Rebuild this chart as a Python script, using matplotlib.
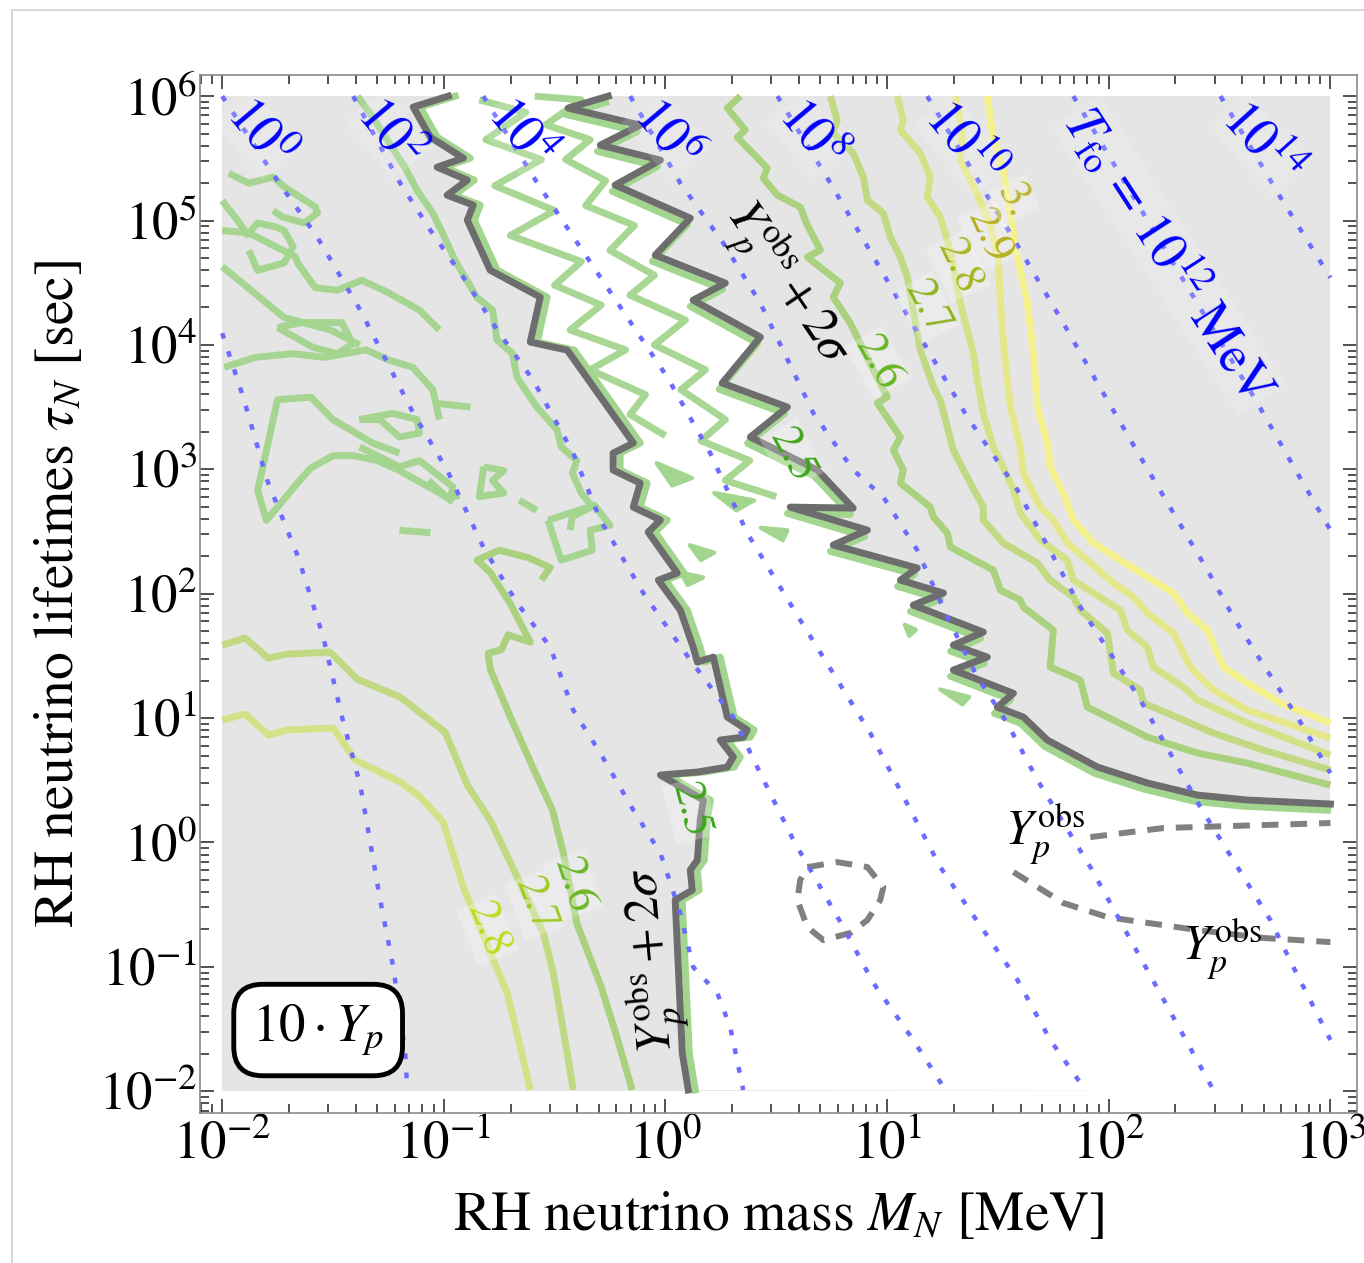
import numpy as np
import matplotlib
matplotlib.use("Agg")
import matplotlib.pyplot as plt
from matplotlib import patheffects as pe
from matplotlib.lines import Line2D
from matplotlib.ticker import FixedLocator, FixedFormatter, LogLocator, NullFormatter

plt.rcParams['font.family'] = ['STIXGeneral', 'DejaVu Serif']
plt.rcParams['mathtext.fontset'] = 'stix'

# ---------------- data: log10(M_N / MeV), log10(tau_N / sec) ----------------
scan_logM = [-2.0, 3.0]
scan_logtau = [-2.0, 6.0]
xlim_log = [-2.10, 3.12]
ylim_log = [-2.175, 6.17]

xtick_exps = [-2, -1, 0, 1, 2, 3]
xtick_labels = [r'$10^{-2}$', r'$10^{-1}$', r'$10^{0}$', r'$10^{1}$', r'$10^{2}$', r'$10^{3}$']
ytick_exps = [-2, -1, 0, 1, 2, 3, 4, 5, 6]
ytick_labels = [r'$10^{-2}$', r'$10^{-1}$', r'$10^{0}$', r'$10^{1}$', r'$10^{2}$',
                r'$10^{3}$', r'$10^{4}$', r'$10^{5}$', r'$10^{6}$']

# Y_p^obs + 2 sigma boundaries
sig_left_logM = [-0.980, -1.138, -1.061, -0.912, -1.030, -0.894, -0.985, -0.867, -0.894, -0.791,
                 -0.565, -0.610, -0.443, -0.145, -0.236, -0.236, -0.114, -0.145, -0.023, -0.078,
                 0.053, -0.032, 0.067, 0.125, 0.144, 0.216, 0.279, 0.369, 0.351, 0.247,
                 0.306, 0.279, 0.144, -0.023, 0.171, 0.157, 0.144, 0.112, 0.121, 0.044, 0.076, 0.103]
sig_left_logtau = [6.0, 5.912, 5.670, 5.502, 5.429, 5.325, 5.204, 5.124, 5.003, 4.601,
                   4.384, 4.023, 3.958, 3.211, 3.130, 2.994, 2.889, 2.696, 2.592, 2.495,
                   2.166, 2.109, 1.868, 1.571, 1.450, 1.490, 1.008, 0.904, 0.847, 0.823,
                   0.687, 0.606, 0.566, 0.542, 0.341, 0.180, -0.141, -0.222, -0.383, -0.463, -1.693, -1.990]
sig_right_logM = [-0.258, -0.439, -0.114, -0.294, -0.023, -0.227, 0.112, -0.046, 0.270, 0.125,
                  0.428, 0.256, 0.550, 0.383, 0.685, 0.847, 0.563, 0.911, 0.757, 1.136,
                  1.060, 1.254, 1.118, 1.434, 1.299, 1.452, 1.299, 1.570, 1.497, 1.615,
                  1.723, 1.949, 2.174, 2.400, 2.625, 3.000]
sig_right_logtau = [6.0, 5.904, 5.767, 5.606, 5.486, 5.285, 5.019, 4.722, 4.497, 4.360,
                    4.063, 3.693, 3.500, 3.259, 2.994, 2.688, 2.696, 2.511, 2.391, 2.206,
                    2.109, 2.005, 1.908, 1.691, 1.587, 1.490, 1.386, 1.199, 1.088, 1.008,
                    0.823, 0.606, 0.478, 0.381, 0.341, 0.309]

# 10*Y_p contours (upper right)
c26_logM = [0.338, 0.279, 0.360, 0.324, 0.459, 0.441, 0.505, 0.608, 0.640, 0.699, 0.640, 0.789, 0.757,
            0.834, 0.915, 1.001, 0.956, 1.060, 1.028, 1.073, 1.060, 1.195, 1.209, 1.272, 1.285, 1.479,
            1.511, 1.601, 1.615, 1.750, 1.736, 1.872, 1.903, 2.021, 2.174, 2.400, 2.625, 3.0]
c26_logtau = [6.0, 5.904, 5.727, 5.670, 5.421, 5.341, 5.204, 5.108, 4.963, 4.762, 4.706, 4.497, 4.384,
              4.175, 3.878, 3.580, 3.532, 3.259, 3.154, 2.994, 2.889, 2.696, 2.616, 2.487, 2.375, 2.190,
              2.029, 1.949, 1.892, 1.707, 1.410, 1.305, 1.088, 0.984, 0.847, 0.719, 0.638, 0.461]
c27_logM = [0.744, 0.775, 0.757, 0.847, 0.893, 0.911, 0.983, 1.014, 1.060, 1.091, 1.150, 1.209, 1.240,
            1.299, 1.344, 1.434, 1.434, 1.524, 1.678, 1.736, 1.840, 1.872, 1.994, 2.021, 2.143, 2.156,
            2.264, 2.472, 2.698, 3.0]
c27_logtau = [6.0, 5.807, 5.703, 5.542, 5.349, 5.164, 5.059, 4.867, 4.706, 4.545, 3.958, 3.661, 3.556,
              3.154, 2.994, 2.696, 2.592, 2.407, 2.246, 2.109, 1.973, 1.868, 1.683, 1.362, 1.225, 1.121,
              1.040, 0.879, 0.743, 0.582]
c28_logM = [1.046, 1.073, 1.060, 1.150, 1.195, 1.181, 1.240, 1.285, 1.330, 1.362, 1.389, 1.407, 1.434,
            1.479, 1.524, 1.570, 1.601, 1.691, 1.813, 1.840, 2.052, 2.084, 2.174, 2.201, 2.337, 2.400,
            2.625, 3.0]
c28_logtau = [6.0, 5.807, 5.727, 5.542, 5.349, 5.188, 5.027, 4.762, 4.336, 4.119, 3.934, 3.717, 3.452,
              3.178, 3.018, 2.833, 2.648, 2.431, 2.270, 2.109, 1.868, 1.707, 1.571, 1.410, 1.249, 1.145,
              0.960, 0.702]
c29_logM = [1.308, 1.339, 1.330, 1.398, 1.466, 1.502, 1.511, 1.524, 1.542, 1.556, 1.601, 1.615, 1.691,
            1.750, 1.813, 1.903, 2.021, 2.111, 2.174, 2.292, 2.368, 2.472, 2.625, 3.0]
c29_logtau = [6.0, 5.727, 5.486, 5.244, 4.963, 4.682, 4.360, 4.039, 3.717, 3.500, 3.178, 2.969, 2.696,
              2.592, 2.407, 2.270, 2.085, 1.973, 1.844, 1.683, 1.410, 1.225, 1.064, 0.839]
c30_logM = [1.452, 1.479, 1.524, 1.588, 1.633, 1.660, 1.678, 1.723, 1.736, 1.795, 1.840, 1.931, 2.052,
            2.174, 2.292, 2.355, 2.445, 2.517, 2.625, 2.774, 3.0]
c30_logtau = [6.0, 5.670, 5.405, 4.706, 4.336, 3.934, 3.500, 3.211, 3.018, 2.809, 2.592, 2.407, 2.270,
              2.133, 2.005, 1.844, 1.707, 1.410, 1.281, 1.121, 0.960]

# 10*Y_p contours (lower left)
c26b_logM = [-0.15, -0.22, -0.29, -0.40, -0.46, -0.51, -0.60, -0.70, -0.79, -0.80, -0.74, -0.71, -0.61,
             -0.70, -0.79, -0.85, -0.75, -0.62, -0.52, -0.56]
c26b_logtau = [-1.99, -1.56, -1.16, -0.65, -0.09, 0.26, 0.61, 1.01, 1.39, 1.52, 1.55, 1.67, 1.61,
               1.92, 2.17, 2.27, 2.35, 2.29, 2.21, 2.11]
c27b_logM = [-2.0, -1.896, -1.792, -1.707, -1.513, -1.391, -1.197, -0.994, -0.894, -0.791, -0.669,
             -0.551, -0.506, -0.443, -0.416]
c27b_logtau = [1.587, 1.643, 1.482, 1.514, 1.531, 1.313, 1.169, 0.887, 0.461, 0.180, -0.278,
               -0.728, -1.050, -1.693, -1.990]
c28b_logM = [-2.0, -1.896, -1.792, -1.707, -1.499, -1.400, -1.197, -1.106, -1.003, -0.912, -0.777,
             -0.714, -0.655, -0.610]
c28b_logtau = [0.984, 1.032, 0.863, 0.904, 0.920, 0.662, 0.486, 0.365, 0.164, -0.359, -0.945,
               -1.211, -1.645, -1.990]

# noisy 2.5-level fragments (left region)
n1_logM = [-1.39, -1.32, -1.17, -1.12, -1.05, -0.99, -0.95, -0.89, -0.85, -0.78, -0.76, -0.69, -0.67,
           -0.58, -0.49, -0.47, -0.40, -0.42, -0.38, -0.33, -0.42, -0.43]
n1_logtau = [6.00, 5.83, 5.41, 5.24, 5.06, 4.84, 4.68, 4.50, 4.38, 4.28, 4.04, 3.93, 3.74,
             3.50, 3.32, 3.18, 3.07, 2.97, 2.81, 2.70, 2.62, 2.51]
n2_logM = [-0.53, -0.43, -0.32, -0.25, -0.34, -0.33, -0.47, -0.53]
n2_logtau = [2.59, 2.65, 2.71, 2.55, 2.51, 2.35, 2.27, 2.59]
n4_logM = [-1.20, -1.32, -1.50, -1.60, -1.75, -1.84, -1.80, -1.66, -1.60, -1.50, -1.41, -1.30, -1.20, -0.98, -0.93]
n4_logtau = [3.13, 3.21, 3.40, 3.58, 3.56, 2.83, 2.59, 2.89, 3.01, 3.11, 3.11, 3.07, 2.99, 2.77, 2.79]
na_logM = [-1.97, -1.88, -1.77, -1.72, -1.58, -1.57, -1.63, -1.73, -1.77]
na_logtau = [5.38, 5.30, 5.35, 5.27, 5.11, 5.06, 4.98, 5.03, 5.08]
nb_logM = [-2.00, -1.93, -1.88]
nb_logtau = [5.16, 5.00, 4.87]
nc_logM = [-2.00, -1.88, -1.84, -1.76, -1.72, -1.68, -1.72, -1.84, -1.88]
nc_logtau = [4.92, 4.90, 4.98, 4.95, 4.92, 4.79, 4.66, 4.60, 4.76]
nd_logM = [-1.88, -1.67, -1.66, -1.58, -1.48, -1.37, -1.25, -1.11, -1.02]
nd_logtau = [4.90, 4.71, 4.66, 4.46, 4.44, 4.52, 4.42, 4.28, 4.12]
ne_logM = [-2.00, -1.72, -1.68, -1.51, -1.38]
ne_logtau = [4.63, 4.22, 4.20, 4.12, 4.00]
nf_logM = [-1.75, -1.64, -1.46, -1.41, -1.48, -1.59, -1.75]
nf_logtau = [4.14, 4.18, 4.18, 4.01, 3.93, 3.98, 4.14]
ng_logM = [-1.99, -1.85, -1.68, -1.54, -1.35, -1.25, -1.14, -1.05, -1.02]
ng_logtau = [3.82, 3.90, 3.93, 3.90, 3.96, 3.88, 3.82, 3.64, 3.40]
nh_logM = [-1.38, -1.23, -1.12, -1.11, -1.20, -1.29, -1.38]
nh_logtau = [3.40, 3.45, 3.40, 3.29, 3.26, 3.40, 3.40]
ni_logM = [-1.38, -1.20, -1.11, -0.96, -0.97, -1.07]
ni_logtau = [3.18, 3.02, 3.07, 2.86, 2.75, 2.91]
nj_logM = [-0.82, -0.73, -0.78, -0.73, -0.84, -0.82]
nj_logtau = [3.02, 2.99, 2.91, 2.81, 2.78, 3.02]
nk_logM = [-1.03, -0.88]
nk_logtau = [3.53, 3.50]
nl_logM = [-1.20, -1.06]
nl_logtau = [2.51, 2.49]
nm_logM = [-0.66, -0.58]
nm_logtau = [2.75, 2.67]

# 2.5-level zigzags inside the allowed band
zb_logM = [-0.59, -0.38, -0.54, -0.34, -0.45, -0.27, -0.36, -0.14, -0.25, -0.05, -0.16, 0.09, -0.05,
           0.18, 0.07, 0.27, 0.16, 0.38, 0.27, 0.50]
zb_logtau = [6.00, 5.97, 5.77, 5.65, 5.49, 5.32, 5.12, 4.96, 4.76, 4.56, 4.40, 4.20, 4.00,
             3.80, 3.64, 3.40, 3.23, 3.07, 2.91, 2.78]
zc_logM = [-0.84, -0.63, -0.81, -0.56, -0.77, -0.50, -0.70, -0.38, -0.50, -0.29, -0.43, -0.18, -0.34,
           -0.09, -0.16, 0.00]
zc_logtau = [5.97, 5.87, 5.65, 5.49, 5.28, 5.08, 4.88, 4.67, 4.48, 4.32, 4.12, 3.96, 3.80,
             3.60, 3.44, 3.27]
# small isolated 2.5-level islands (triangles)
isl_logM = [[-0.04, 0.12, 0.03], [0.22, 0.40, 0.32], [0.43, 0.55, 0.53], [0.11, 0.22, 0.16],
            [0.07, 0.17, 0.10], [1.24, 1.37, 1.34], [1.08, 1.13, 1.10]]
isl_logtau = [[3.05, 2.93, 2.87], [2.81, 2.75, 2.67], [2.53, 2.51, 2.43], [2.39, 2.33, 2.27],
              [2.17, 2.13, 2.07], [1.23, 1.17, 1.11], [1.75, 1.71, 1.66]]

# Y_p^obs central-value contours (dashed)
obs_loop_logM = [0.640, 0.775, 0.911, 0.983, 0.969, 0.911, 0.834, 0.712, 0.640, 0.595, 0.608, 0.640]
obs_loop_logtau = [-0.198, -0.158, -0.198, -0.359, -0.463, -0.624, -0.728, -0.785, -0.680, -0.463, -0.302, -0.198]
obs_up_logM = [1.917, 2.246, 2.698, 3.0]
obs_up_logtau = [0.043, 0.116, 0.140, 0.156]
obs_low_logM = [1.570, 1.795, 1.994, 2.400, 2.698, 3.0]
obs_low_logtau = [-0.238, -0.487, -0.600, -0.704, -0.768, -0.801]

# freeze-out temperature contours T_fo
tfo_m2_logM = [-2.0, -1.905, -1.797, -1.657, -1.544, -1.458, -1.377, -1.287, -1.228, -1.174, -1.165]
tfo_m2_logtau = [4.095, 3.580, 2.913, 2.294, 1.651, 1.0, 0.461, -0.463, -1.002, -1.693, -1.990]
tfo_0_logM = [-2.0, -1.752, -1.571, -1.377, -1.138, -0.985, -0.822, -0.669, -0.520, -0.416, -0.294,
              -0.145, -0.023, 0.067, 0.125, 0.234, 0.292, 0.351]
tfo_0_logtau = [6.0, 5.325, 4.867, 4.280, 3.452, 2.994, 2.375, 1.924, 1.571, 1.064, 0.719,
                0.260, -0.085, -0.568, -1.002, -1.211, -1.484, -1.990]
tfo_2_logM = [-1.409, -1.197, -1.061, -0.894, -0.759, -0.597, -0.416, -0.294, -0.100, 0.112, 0.306,
              0.414, 0.577, 0.802, 0.938, 1.118, 1.263]
tfo_2_logtau = [6.0, 5.301, 4.923, 4.497, 4.119, 3.717, 3.130, 2.592, 2.005, 1.466, 1.008,
                0.606, 0.019, -0.680, -1.130, -1.588, -1.990]
tfo_4_logM = [-0.822, -0.578, -0.294, 0.008, 0.202, 0.369, 0.608, 0.924, 1.240, 1.588, 1.736, 1.894]
tfo_4_logtau = [6.0, 5.301, 4.545, 3.741, 3.130, 2.487, 1.788, 0.879, -0.198, -1.106, -1.588, -1.990]
tfo_6_logM = [-0.159, 0.067, 0.261, 0.428, 0.667, 0.847, 0.983, 1.136, 1.272, 1.407, 1.542, 1.678,
              1.917, 2.174, 2.472]
tfo_6_logtau = [6.0, 5.301, 4.818, 4.336, 3.452, 2.994, 2.777, 2.350, 1.812, 1.330, 0.960, 0.502,
                -0.198, -1.026, -1.990]
tfo_8_logM = [0.505, 0.744, 1.060, 1.362, 1.588, 1.872, 2.143, 2.413, 2.729, 2.833, 3.0]
tfo_8_logtau = [6.0, 5.301, 4.336, 3.420, 2.833, 1.892, 1.145, 0.285, -0.624, -1.002, -1.588]
tfo_10_logM = [1.181, 1.601, 1.795, 1.949, 2.143, 2.292, 2.445, 2.562, 2.684, 2.851, 3.0]
tfo_10_logtau = [6.0, 4.762, 4.175, 3.693, 3.098, 2.648, 2.190, 1.812, 1.466, 1.008, 0.558]
tfo_12_logM = [1.840, 2.255, 2.671, 2.851, 3.0]
tfo_12_logtau = [6.0, 4.762, 3.532, 2.969, 2.511]
tfo_14_logM = [2.504, 2.774, 3.0]
tfo_14_logtau = [6.0, 5.188, 4.54]

tfo_label_texts = [r'$10^{0}$', r'$10^{2}$', r'$10^{4}$', r'$10^{6}$', r'$10^{8}$', r'$10^{10}$',
                   r'$T_{\rm fo}\,=\,10^{12}\ \mathrm{MeV}$', r'$10^{14}$']
tfo_label_logM = [-1.84, -1.25, -0.66, 0.00, 0.65, 1.34, 2.27, 2.68]
tfo_label_logtau = [5.69, 5.69, 5.69, 5.69, 5.69, 5.61, 4.72, 5.61]
tfo_label_rot = [-50, -50, -50, -50, -50, -50, -57, -48]

level_label_texts = ['2.5', '2.5', '2.6', '2.7', '2.8', '2.9', '3.', '2.8', '2.7', '2.6']
level_label_logM = [0.572, 0.112, 0.96, 1.18, 1.32, 1.46, 1.57, -0.804, -0.588, -0.416]
level_label_logtau = [3.114, 0.260, 3.86, 4.30, 4.63, 4.87, 5.16, -0.704, -0.503, -0.343]
level_label_rot = [-62, -75, -60, -62, -65, -65, -65, -68, -70, -72]
level_label_colors = ['#3fa51c', '#3fa51c', '#66b424', '#8fb522', '#a9b420', '#b6b024', '#bdb534',
                      '#bfda1e', '#9fcb22', '#6cb826']

# ---------------- styles ----------------
GRAY_BG = '#e5e5e5'
DARK = '#6d6d6d'
G25 = '#a2d58d'
G26 = '#aad17e'
G27 = '#c1d982'
G28 = '#d5e187'
G29 = '#e5e78b'
G30 = '#f4f08c'
BLUE_DOT = '#6b6bff'


def P(lx, ly):
    return 10.0 ** np.asarray(lx, float), 10.0 ** np.asarray(ly, float)


fig = plt.figure(figsize=(13.64, 12.63), dpi=100)
ax = fig.add_axes([200 / 1364, 1 - 1113 / 1263, 1157 / 1364, 1038 / 1263])
ax.set_xscale('log')
ax.set_yscale('log')
ax.set_xlim(*P(xlim_log, [0, 0])[0])
ax.set_ylim(*P([0, 0], ylim_log)[1])

# gray scanned region
gx, gy = P([scan_logM[0], scan_logM[1], scan_logM[1], scan_logM[0]],
           [scan_logtau[0], scan_logtau[0], scan_logtau[1], scan_logtau[1]])
ax.fill(gx, gy, color=GRAY_BG, lw=0, zorder=0)

# allowed (white) region between the two 2-sigma boundaries
wx = list(sig_left_logM) + [scan_logM[1], scan_logM[1]] + list(sig_right_logM[::-1])
wy = list(sig_left_logtau) + [scan_logtau[0], sig_right_logtau[-1]] + list(sig_right_logtau[::-1])
ax.fill(*P(wx, wy), color='white', lw=0, zorder=1)

# contour lines
lw_c = 5.0
kw = dict(solid_joinstyle='round', solid_capstyle='butt', zorder=3)
for lx, ly, col in [(c26_logM, c26_logtau, G26), (c27_logM, c27_logtau, G27), (c28_logM, c28_logtau, G28),
                    (c29_logM, c29_logtau, G29), (c30_logM, c30_logtau, G30),
                    (c26b_logM, c26b_logtau, G26), (c27b_logM, c27b_logtau, G27), (c28b_logM, c28b_logtau, G28)]:
    ax.plot(*P(lx, ly), color=col, lw=lw_c, **kw)

noisy = [(n1_logM, n1_logtau), (n2_logM, n2_logtau), (n4_logM, n4_logtau), (na_logM, na_logtau),
         (nb_logM, nb_logtau), (nc_logM, nc_logtau), (nd_logM, nd_logtau), (ne_logM, ne_logtau),
         (nf_logM, nf_logtau), (ng_logM, ng_logtau), (nh_logM, nh_logtau), (ni_logM, ni_logtau),
         (nj_logM, nj_logtau), (nk_logM, nk_logtau), (nl_logM, nl_logtau), (nm_logM, nm_logtau),
         (zb_logM, zb_logtau), (zc_logM, zc_logtau)]
for lx, ly in noisy:
    ax.plot(*P(lx, ly), color=G25, lw=lw_c, alpha=0.95, **kw)
for lx, ly in zip(isl_logM, isl_logtau):
    ax.fill(*P(lx, ly), facecolor=G25, edgecolor=G25, lw=3, joinstyle='round', zorder=3)

# 2-sigma boundaries with the hugging 2.5 contour
ax.plot(*P(sig_left_logM, sig_left_logtau), color=DARK, lw=5, zorder=4, solid_joinstyle='round',
        path_effects=[pe.Stroke(offset=(5, 0), foreground=G25, linewidth=5), pe.Normal()])
ax.plot(*P(sig_right_logM, sig_right_logtau), color=DARK, lw=5, zorder=4, solid_joinstyle='round',
        path_effects=[pe.Stroke(offset=(-2, -4.5), foreground=G25, linewidth=5), pe.Normal()])

# dashed Y_p^obs
for lx, ly in [(obs_loop_logM, obs_loop_logtau), (obs_up_logM, obs_up_logtau), (obs_low_logM, obs_low_logtau)]:
    ax.plot(*P(lx, ly), color='#808080', lw=4.3, dashes=(2.8, 2.0), zorder=4)

# T_fo dotted
for lx, ly in [(tfo_m2_logM, tfo_m2_logtau), (tfo_0_logM, tfo_0_logtau), (tfo_2_logM, tfo_2_logtau),
               (tfo_4_logM, tfo_4_logtau), (tfo_6_logM, tfo_6_logtau), (tfo_8_logM, tfo_8_logtau),
               (tfo_10_logM, tfo_10_logtau), (tfo_12_logM, tfo_12_logtau), (tfo_14_logM, tfo_14_logtau)]:
    ax.plot(*P(lx, ly), color=BLUE_DOT, lw=3.2, dashes=(1.3, 3.0), zorder=5)

# labels
for t, lx, ly, r in zip(tfo_label_texts, tfo_label_logM, tfo_label_logtau, tfo_label_rot):
    ax.text(10 ** lx, 10 ** ly, t, color='#0000ff', fontsize=38, rotation=r, ha='center', va='center',
            rotation_mode='anchor', zorder=7,
            bbox=dict(boxstyle='square,pad=0.02', fc='white', ec='none', alpha=0.15))
for t, lx, ly, r, c in zip(level_label_texts, level_label_logM, level_label_logtau, level_label_rot,
                           level_label_colors):
    ax.text(10 ** lx, 10 ** ly, t, color=c, fontsize=32, rotation=r, ha='center', va='center',
            rotation_mode='anchor', zorder=7,
            bbox=dict(boxstyle='square,pad=0.05', fc='white', ec='none', alpha=0.25))

ax.text(10 ** 0.54, 10 ** 4.48, r'$Y_p^{\rm obs}+2\sigma$', fontsize=36, rotation=-56, ha='center',
        va='center', rotation_mode='anchor', zorder=7)
ax.text(10 ** -0.05, 10 ** -0.945, r'$Y_p^{\rm obs}+2\sigma$', fontsize=36, rotation=95, ha='center',
        va='center', rotation_mode='anchor', zorder=7)
ax.text(10 ** 1.714, 10 ** 0.06, r'$Y_p^{\rm obs}$', fontsize=35, ha='center', va='center', zorder=7)
ax.text(10 ** 2.513, 10 ** -0.865, r'$Y_p^{\rm obs}$', fontsize=35, ha='center', va='center', zorder=7)
ax.text(10 ** -1.567, 10 ** -1.508, r'$10\cdot Y_p$', fontsize=38, ha='center', va='center', zorder=8,
        bbox=dict(boxstyle='round,pad=0.35,rounding_size=0.55', fc='white', ec='black', lw=3.5))

# axes styling
ax.xaxis.set_major_locator(FixedLocator(10.0 ** np.array(xtick_exps)))
ax.xaxis.set_major_formatter(FixedFormatter(xtick_labels))
ax.yaxis.set_major_locator(FixedLocator(10.0 ** np.array(ytick_exps)))
ax.yaxis.set_major_formatter(FixedFormatter(ytick_labels))
ax.xaxis.set_minor_locator(LogLocator(base=10, subs=np.arange(2, 10), numticks=30))
ax.yaxis.set_minor_locator(LogLocator(base=10, subs=np.arange(2, 10), numticks=30))
ax.xaxis.set_minor_formatter(NullFormatter())
ax.yaxis.set_minor_formatter(NullFormatter())
ax.tick_params(which='both', direction='in', top=True, right=True, color='#333333', width=1.2)
ax.tick_params(which='major', length=10, labelsize=38)
ax.tick_params(which='minor', length=6.5)
ax.tick_params(axis='x', which='major', pad=6)
ax.tick_params(axis='y', which='major', pad=2)
for s in ax.spines.values():
    s.set_color('#8a8a8a')
    s.set_linewidth(1.2)

ax.set_xlabel(r'RH neutrino mass $M_N$ [MeV]', fontsize=40, labelpad=14)
ax.set_ylabel(r'RH neutrino lifetimes $\tau_N$ [sec]', fontsize=40, labelpad=10)

# thin outer frame lines
fig.add_artist(Line2D([12 / 1364, 1], [1 - 10 / 1263, 1 - 10 / 1263], color='#d0d0d0', lw=1.2))
fig.add_artist(Line2D([12 / 1364, 12 / 1364], [0, 1 - 10 / 1263], color='#d0d0d0', lw=1.2))

fig.savefig('out.png', dpi=100)
